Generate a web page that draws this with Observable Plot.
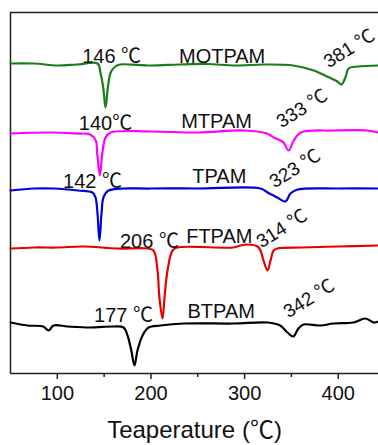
<!DOCTYPE html>
<html>
<head>
<meta charset="utf-8">
<script src="https://cdn.jsdelivr.net/npm/d3@7"></script>
<script src="https://cdn.jsdelivr.net/npm/@observablehq/plot@0.6"></script>
<style>
  html, body { margin: 0; padding: 0; background: #fff; }
</style>
</head>
<body>
<div id="chart"></div>
<script>
// ---- Data (temperature in °C, signal height in arbitrary units, stacked) ----
const seriesNames = ["MOTPAM", "MTPAM", "TPAM", "FTPAM", "BTPAM"];

const motpamT = [50, 75, 100, 121, 143, 146, 149, 151.5, 154, 157, 162, 167, 200, 230, 260, 290, 320, 352, 374, 388, 399, 403.5, 408, 411, 421, 443];
const motpamH = [310, 310, 308, 309, 310, 301, 286, 266, 286, 301, 307, 309, 308, 309, 309.5, 308, 309, 308, 303, 297, 292, 289, 297, 305, 307, 308];

const mtpamT = [50, 93, 120, 135, 141, 142.6, 145.4, 148, 151.5, 157, 200, 250, 300, 324, 331, 336, 341.5, 347, 352.5, 360, 395, 431, 443];
const mtpamH = [240, 241, 240, 239, 233, 220, 198, 220, 236, 241, 242, 241, 243, 240, 236, 234, 231, 223, 233, 241, 243, 243, 241];

const tpamT = [50, 75, 96, 122, 137.6, 140.8, 142.9, 145, 147.2, 149.3, 154.7, 200, 250, 317, 324.5, 335, 343.7, 349, 356.5, 400, 443];
const tpamH = [183, 185, 185, 183, 181, 176, 160, 133, 160, 176, 183, 185, 185, 185, 181, 176, 172, 180, 184, 185, 185];

const ftpamT = [50, 75, 100, 128, 164, 196, 202.7, 207, 209, 212.3, 214.5, 217.7, 223, 228, 288, 295.6, 303, 313.8, 317, 320.2, 324.5, 327.7, 331, 335, 360, 400, 443];
const ftpamH = [125, 126, 126, 127, 125, 125, 123, 103, 76, 55, 76, 103, 123, 126, 126, 128, 129, 127, 123, 113, 103, 113, 123, 125, 126, 127, 128];

const btpamT = [50, 68, 85, 90.6, 96, 111, 135, 160, 170.7, 175, 179, 182.4, 185.6, 191, 197.4, 210, 235, 288, 324.5, 338, 345.8, 352, 357.5, 363, 381, 395, 416, 429, 438, 443];
const btpamH = [51, 48, 47, 43, 48, 47, 46, 47, 46, 38, 23, 8, 23, 38, 46, 48, 50, 50, 51, 48, 41, 37, 45, 49, 48, 50, 51, 55, 51, 52];

// Horizontal annotations
const labelText = ["146 ℃", "MOTPAM", "140℃", "MTPAM", "142 ℃", "TPAM", "206 ℃", "FTPAM", "177 ℃", "BTPAM"];
const labelT    = [158, 276, 151.5, 270, 137.6, 273, 198.4, 273, 170.7, 275];
const labelH    = [311, 311, 244, 246, 186, 191, 126, 131, 52, 56];

// Rotated peak annotations
const peakText = ["381 ℃", "333 ℃", "323 ℃", "314 ℃", "342 ℃"];
const peakT    = [390, 339.5, 332, 318, 347];
const peakH    = [305, 245, 185, 125, 55];

const majorTicks = [100, 200, 300, 400];
const minorTicks = [150, 250, 350];
const xTitle = "Teaperature (℃)";

// ---- Build table ----
const seriesT = [motpamT, mtpamT, tpamT, ftpamT, btpamT];
const seriesH = [motpamH, mtpamH, tpamH, ftpamH, btpamH];
const rows = [];
seriesNames.forEach((name, i) => {
  seriesT[i].forEach((t, j) => rows.push({name, T: t, h: seriesH[i][j]}));
});
const labels = labelText.map((s, i) => ({s, T: labelT[i], h: labelH[i]}));
const peaks = peakText.map((s, i) => ({s, T: peakT[i], h: peakH[i]}));

const font = "'Liberation Sans', Arial, 'Noto Sans CJK SC', sans-serif";

const chart = Plot.plot({
  width: 378,
  height: 445,
  marginLeft: 10,
  marginRight: 0,
  marginTop: 12,
  marginBottom: 72,
  style: {fontFamily: font, background: "#fff", color: "#111"},
  x: {domain: [50, 443]},
  y: {domain: [0, 361], axis: null},
  color: {domain: seriesNames, range: ["#197d19", "#ff00ff", "#0000dd", "#e60000", "#000000"]},
  marks: [
    Plot.ruleY([361], {stroke: "#222", strokeWidth: 1.5}),
    Plot.ruleX([50], {stroke: "#222", strokeWidth: 1.5}),
    Plot.ruleY([0], {stroke: "#222", strokeWidth: 1.5}),
    Plot.axisX({ticks: majorTicks, tickSize: 6, tickPadding: 6, fontSize: 20, label: null, strokeWidth: 1.5, stroke: "#222"}),
    Plot.axisX({ticks: minorTicks, tickSize: 4, tickFormat: () => "", label: null, strokeWidth: 1.5, stroke: "#222"}),
    Plot.line(rows, {x: "T", y: "h", z: "name", stroke: "name", strokeWidth: 2.2, curve: "catmull-rom"}),
    Plot.text(labels, {x: "T", y: "h", text: "s", fontSize: 20, lineAnchor: "bottom", fill: "#111"}),
    Plot.text(peaks, {x: "T", y: "h", text: "s", fontSize: 19, lineAnchor: "bottom", textAnchor: "start", rotate: -32, fill: "#111"}),
    Plot.text([xTitle], {frameAnchor: "bottom", dy: 64, lineAnchor: "bottom", fontSize: 24, fill: "#111"})
  ]
});

// Render the ℃ sign with the CJK face, as in the original figure
const CJK = "'Noto Sans CJK SC', sans-serif";
chart.querySelectorAll("text").forEach(el => {
  const walker = document.createTreeWalker(el, NodeFilter.SHOW_TEXT);
  const nodes = [];
  while (walker.nextNode()) nodes.push(walker.currentNode);
  nodes.forEach(node => {
    const s = node.nodeValue;
    if (!s.includes("℃")) return;
    const frag = document.createDocumentFragment();
    s.split(/(℃)/).forEach(part => {
      if (!part) return;
      if (part === "℃") {
        const ts = document.createElementNS("http://www.w3.org/2000/svg", "tspan");
        ts.setAttribute("font-family", CJK);
        ts.textContent = part;
        frag.appendChild(ts);
      } else {
        frag.appendChild(document.createTextNode(part));
      }
    });
    node.parentNode.replaceChild(frag, node);
  });
});
document.getElementById("chart").appendChild(chart);
</script>
</body>
</html>
